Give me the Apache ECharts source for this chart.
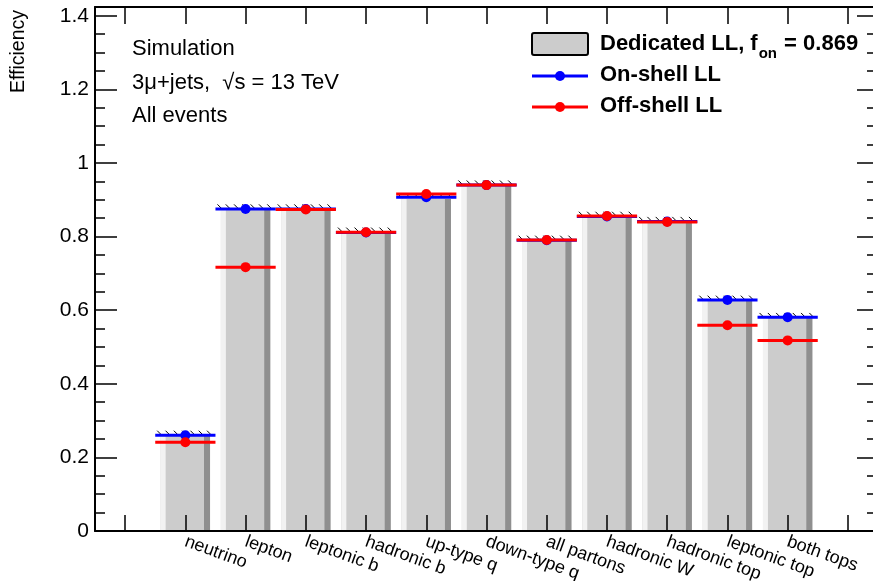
<!DOCTYPE html>
<html><head><meta charset="utf-8">
<script src="https://cdn.jsdelivr.net/npm/echarts@6/dist/echarts.min.js"></script>
<style>html,body{margin:0;padding:0;background:#fff}#c{width:873px;height:581px}</style>
</head><body><div id="c"></div>
<script>
const categories = ['neutrino','lepton','leptonic b','hadronic b','up-type q','down-type q','all partons','hadronic W','hadronic top','leptonic top','both tops'];
const dedicatedLL = [0.259,0.874,0.874,0.811,0.902,0.939,0.789,0.854,0.840,0.626,0.579];
const onShellLL   = [0.260,0.875,0.875,0.811,0.907,0.940,0.790,0.855,0.841,0.628,0.581];
const offShellLL  = [0.241,0.717,0.874,0.812,0.916,0.940,0.791,0.856,0.840,0.559,0.518];
const yTickLabels = ['0','0.2','0.4','0.6','0.8','1','1.2','1.4'];
const fOn = '0.869';

const FONT = "'Liberation Sans', Arial, Helvetica, sans-serif";
const xData = [''].concat(categories, ['']);
const toPts = arr => arr.map((v, i) => [i + 1, v]);

function renderBar(params, api) {
  const x = api.value(0), v = api.value(1);
  const top = api.coord([x, v]);
  const base = api.coord([x, 0]);
  const bw = api.size([1, 0])[0];
  const cx = top[0];
  const left = cx - bw * 0.41, right = cx + bw * 0.41;
  const lw = bw * 0.083, dw = bw * 0.1;
  const h = base[1] - top[1];
  const children = [
    {type: 'rect', shape: {x: left, y: top[1], width: right - left, height: h}, style: {fill: '#cccccc'}},
    {type: 'rect', shape: {x: left, y: top[1], width: lw, height: h}, style: {fill: '#f2f2f2'}},
    {type: 'rect', shape: {x: right - dw, y: top[1], width: dw, height: h}, style: {fill: '#8f8f8f'}}
  ];
  const hl = cx - bw / 2, hr = cx + bw / 2;
  for (let hx = hl + 2; hx + 4 <= hr; hx += 8.3) {
    children.push({type: 'line', shape: {x1: hx, y1: top[1] - 5, x2: hx + 4, y2: top[1] - 1},
      style: {stroke: '#000', lineWidth: 1}});
  }
  return {type: 'group', children};
}
function renderMarker(color) {
  return function (params, api) {
    const p = api.coord([api.value(0), api.value(1)]);
    const bw = api.size([1, 0])[0];
    return {type: 'group', children: [
      {type: 'line', shape: {x1: p[0] - bw / 2, y1: p[1], x2: p[0] + bw / 2, y2: p[1]}, style: {stroke: color, lineWidth: 3}},
      {type: 'circle', shape: {cx: p[0], cy: p[1], r: 5}, style: {fill: color}}
    ]};
  };
}

const yFmt = v => {
  const k = Math.round(v / 0.2);
  return Math.abs(v / 0.2 - k) < 1e-6 && yTickLabels[k] !== undefined ? yTickLabels[k] : '';
};

const axisCommon = {
  z: 10,
  axisLine: {show: true, onZero: false, lineStyle: {color: '#000', width: 2}},
  splitLine: {show: false}
};

const chart = echarts.init(document.getElementById('c'), null, {renderer: 'canvas'});

const mc = document.createElement('canvas').getContext('2d');
mc.font = "bold 22px " + FONT;
const w1 = mc.measureText('Dedicated LL, f').width;
mc.font = "bold 15px " + FONT;
const wSub = mc.measureText('on').width;

chart.setOption({
  animation: false,
  backgroundColor: '#fff',
  textStyle: {fontFamily: FONT},
  grid: {left: 95, top: 7, width: 783, height: 524, containLabel: false, outerBoundsMode: 'none'},
  xAxis: [
    Object.assign({}, axisCommon, {
      type: 'category', data: xData, position: 'bottom', boundaryGap: true,
      axisTick: {show: true, inside: true, length: 16, alignWithLabel: true, interval: 0, lineStyle: {color: '#000', width: 1.5}},
      axisLabel: {show: true, interval: 0, rotate: -20, fontSize: 18, color: '#000', margin: 10, fontFamily: FONT}
    }),
    Object.assign({}, axisCommon, {
      type: 'category', data: xData, position: 'top', boundaryGap: true,
      axisTick: {show: true, inside: true, length: 17, alignWithLabel: true, interval: 0, lineStyle: {color: '#000', width: 1.5}},
      axisLabel: {show: false}
    })
  ],
  yAxis: [
    Object.assign({}, axisCommon, {
      type: 'value', min: 0, max: 1.424, interval: 0.2, position: 'left',
      axisTick: {show: true, inside: true, length: 22, lineStyle: {color: '#000', width: 1.5}},
      minorTick: {show: true, splitNumber: 4, length: 10, lineStyle: {color: '#000', width: 1.5}},
      axisLabel: {show: true, formatter: yFmt, fontSize: 21, color: '#000', margin: 6, fontFamily: FONT}
    }),
    Object.assign({}, axisCommon, {
      type: 'value', min: 0, max: 1.424, interval: 0.2, position: 'right',
      axisTick: {show: true, inside: true, length: 21, lineStyle: {color: '#000', width: 1.5}},
      minorTick: {show: true, splitNumber: 4, length: 11, lineStyle: {color: '#000', width: 1.5}},
      axisLabel: {show: false}
    })
  ],
  series: [
    {name: 'Dedicated LL', type: 'custom', xAxisIndex: 0, yAxisIndex: 0, renderItem: renderBar, data: toPts(dedicatedLL), z: 2},
    {name: 'On-shell LL', type: 'custom', xAxisIndex: 0, yAxisIndex: 0, renderItem: renderMarker('#0000ff'), data: toPts(onShellLL), z: 3},
    {name: 'Off-shell LL', type: 'custom', xAxisIndex: 0, yAxisIndex: 0, renderItem: renderMarker('#ff0000'), data: toPts(offShellLL), z: 4}
  ],
  graphic: [
    {type: 'text', x: 19, y: 10, rotation: Math.PI / 2, style: {text: 'Efficiency', font: "19.5px " + FONT, fill: '#000', align: 'right', verticalAlign: 'middle'}},
    {type: 'text', x: 132, y: 49, style: {text: 'Simulation', font: "22px " + FONT, fill: '#000', align: 'left', verticalAlign: 'middle'}},
    {type: 'text', x: 132, y: 83, style: {text: '3\u03bc+jets,  \u221as = 13 TeV', font: "22px " + FONT, fill: '#000', align: 'left', verticalAlign: 'middle'}},
    {type: 'text', x: 132, y: 116, style: {text: 'All events', font: "22px " + FONT, fill: '#000', align: 'left', verticalAlign: 'middle'}},
    {type: 'rect', shape: {x: 532, y: 33, width: 56, height: 22, r: 2}, style: {fill: '#cccccc', stroke: '#000', lineWidth: 2}},
    {type: 'text', x: 600, y: 44, style: {text: 'Dedicated LL, f', font: "bold 22px " + FONT, fill: '#000', align: 'left', verticalAlign: 'middle'}},
    {type: 'text', x: 601 + w1, y: 54, style: {text: 'on', font: "bold 15px " + FONT, fill: '#000', align: 'left', verticalAlign: 'middle'}},
    {type: 'text', x: 602 + w1 + wSub, y: 44, style: {text: ' = ' + fOn, font: "bold 22px " + FONT, fill: '#000', align: 'left', verticalAlign: 'middle'}},
    {type: 'line', shape: {x1: 532, y1: 76, x2: 588, y2: 76}, style: {stroke: '#0000ff', lineWidth: 3}},
    {type: 'circle', shape: {cx: 560, cy: 76, r: 5}, style: {fill: '#0000ff'}},
    {type: 'text', x: 600, y: 75, style: {text: 'On-shell LL', font: "bold 22px " + FONT, fill: '#000', align: 'left', verticalAlign: 'middle'}},
    {type: 'line', shape: {x1: 532, y1: 107, x2: 588, y2: 107}, style: {stroke: '#ff0000', lineWidth: 3}},
    {type: 'circle', shape: {cx: 560, cy: 107, r: 5}, style: {fill: '#ff0000'}},
    {type: 'text', x: 600, y: 106, style: {text: 'Off-shell LL', font: "bold 22px " + FONT, fill: '#000', align: 'left', verticalAlign: 'middle'}}
  ]
});
</script>
</body></html>
